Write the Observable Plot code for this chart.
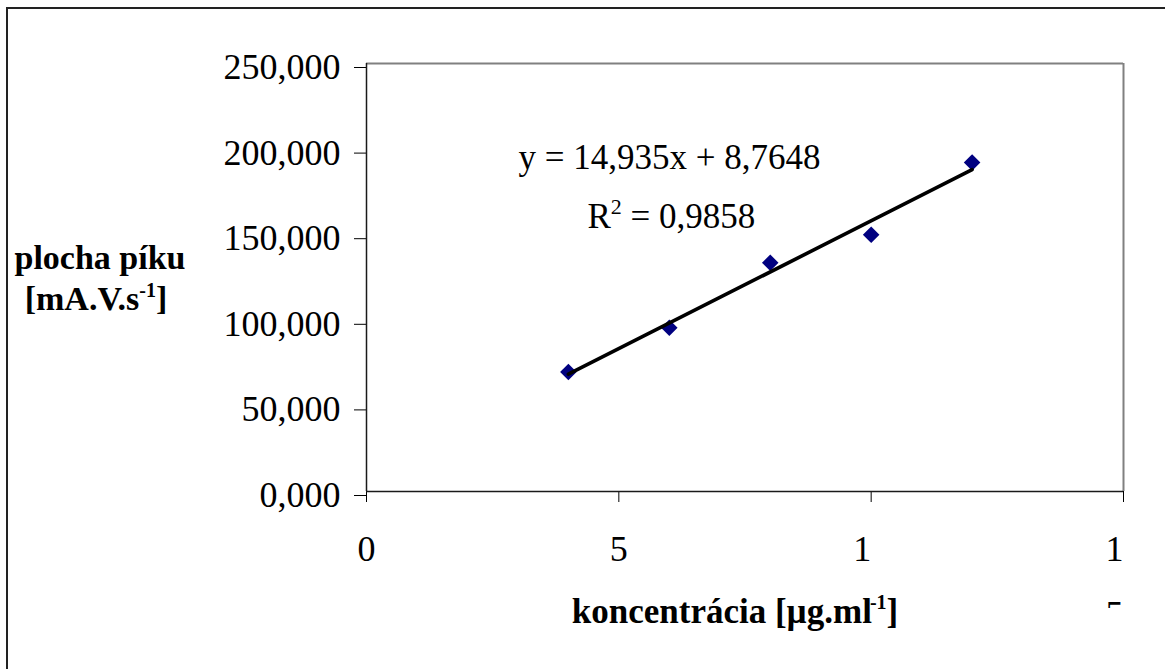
<!DOCTYPE html>
<html>
<head>
<meta charset="utf-8">
<script src="https://cdn.jsdelivr.net/npm/d3@7"></script>
<script src="https://cdn.jsdelivr.net/npm/@observablehq/plot@0.6"></script>
<style>
  html, body { margin: 0; padding: 0; background: #fff; }
  #chart { position: relative; width: 1165px; height: 669px; overflow: hidden; }
  #border { position: absolute; left: 6px; top: 7px; width: 2000px; height: 2000px;
            border-left: 2px solid #222; border-top: 2px solid #222; pointer-events: none; }
</style>
</head>
<body>
<div id="chart"><div id="border"></div></div>
<script>
// Calibration measurements: concentration (µg/ml) vs. peak area (mA.V.s^-1)
const concentration = [4, 6, 8, 10, 12];
const peakArea = [69.8, 95.6, 133.6, 150.0, 192.2];

// Linear trend line as reported
const trendSlope = 14.935;
const trendIntercept = 8.7648;
const rSquared = 0.9858;

// Axis ticks; the two-digit x labels wrap, so only their first digit shows
const yTicks = [0, 50, 100, 150, 200, 250];
const xTicks = [0, 5, 10, 15];
const xTickLabels = ["0", "5", "1\u2007", "1\u2007"];
const wrappedDigit = "5\u2007";

const serif = "'Liberation Serif', 'Times New Roman', serif";
const comma = (v, d) => v.toFixed(d).replace(".", ",");

const points = concentration.map((c, i) => ({c, a: peakArea[i]}));
const trend = d3.extent(concentration).map(c => ({c, a: trendSlope * c + trendIntercept}));

// Square marker rotated 45°
const squareDiamond = {
  draw(context, size) {
    const h = Math.sqrt(size / 2);
    context.moveTo(0, -h);
    context.lineTo(h, 0);
    context.lineTo(0, h);
    context.lineTo(-h, 0);
    context.closePath();
  }
};

const chart = Plot.plot({
  width: 1165,
  height: 669,
  marginLeft: 366,
  marginRight: 42,
  marginTop: 63,
  marginBottom: 178,
  style: {fontFamily: serif, fontSize: "36px", background: "transparent", color: "black", overflow: "visible"},
  x: {domain: [0, 15]},
  y: {domain: [0, 250]},
  marks: [
    Plot.ruleY([250], {stroke: "#808080", strokeWidth: 2}),
    Plot.ruleX([15], {stroke: "#808080", strokeWidth: 2}),
    Plot.axisY({ticks: yTicks, tickSize: 12, tickPadding: 14, dy: 4, fontSize: 36,
                tickFormat: d => comma(d, 3), label: null}),
    Plot.axisX({ticks: xTicks, tickSize: 11, tickPadding: 33, fontSize: 36,
                tickFormat: d => xTickLabels[xTicks.indexOf(d)], label: null}),
    Plot.text([15], {x: d => d, frameAnchor: "bottom", text: () => wrappedDigit, lineAnchor: "top",
                     dy: 109, fontSize: 36}),
    Plot.ruleX([0], {stroke: "#1a1a1a", strokeWidth: 1.5}),
    Plot.ruleY([0], {stroke: "#1a1a1a", strokeWidth: 1.5}),
    Plot.dot(points, {x: "c", y: "a", symbol: squareDiamond, r: 6.6, fill: "#000080", stroke: "none"}),
    Plot.line(trend, {x: "c", y: "a", stroke: "black", strokeWidth: 3.6}),
    Plot.text([`y = ${comma(trendSlope, 3)}x + ${comma(trendIntercept, 4)}`],
              {frameAnchor: "top-left", dx: 152, dy: 105, textAnchor: "start", lineAnchor: "bottom", fontSize: 35}),
    Plot.text([`R2 = ${comma(rSquared, 4)}`],
              {frameAnchor: "top-left", dx: 221, dy: 164, textAnchor: "start", lineAnchor: "bottom", fontSize: 35})
  ]
});

chart.style.position = "absolute";
chart.style.left = "0px";
chart.style.top = "0px";
document.getElementById("chart").appendChild(chart);

const svg = d3.select(chart);
const allText = Array.from(chart.querySelectorAll("text"));

// Only the top of the wrapped second digit peeks out below the last tick
svg.append("defs").append("clipPath").attr("id", "wrap-cut")
  .append("rect").attr("x", -2000).attr("y", -2000).attr("width", 5000).attr("height", 2000 + 608);
const wrapped = allText.find(t => t.textContent === wrappedDigit);
if (wrapped) {
  const mark = wrapped.parentNode;
  const holder = document.createElementNS("http://www.w3.org/2000/svg", "g");
  holder.setAttribute("clip-path", "url(#wrap-cut)");
  mark.parentNode.insertBefore(holder, mark);
  holder.appendChild(mark);
}

// Coefficient of determination with a proper raised exponent
const rText = allText.find(t => t.textContent.startsWith("R2"));
if (rText) {
  const r = d3.select(rText).text("");
  r.append("tspan").text("R");
  r.append("tspan").attr("font-size", 22).attr("dy", -14).text("2");
  r.append("tspan").attr("dy", 14).text(` = ${comma(rSquared, 4)}`);
}

// Axis titles
const yTitle = svg.append("text")
  .attr("font-family", serif).attr("font-weight", "bold").attr("font-size", 34)
  .attr("text-anchor", "middle").attr("fill", "black");
yTitle.append("tspan").attr("x", 100).attr("y", 269).text("plocha píku");
const yLine2 = yTitle.append("tspan").attr("x", 96).attr("y", 310);
yLine2.text("[mA.V.s");
yTitle.append("tspan").attr("font-size", 20).attr("dy", -13).text("-1");
yTitle.append("tspan").attr("dy", 13).text("]");

const xTitle = svg.append("text")
  .attr("font-family", serif).attr("font-weight", "bold").attr("font-size", 35)
  .attr("text-anchor", "middle").attr("fill", "black")
  .attr("x", 735).attr("y", 623);
xTitle.append("tspan").text("koncentrácia [µg.ml");
xTitle.append("tspan").attr("font-size", 20).attr("dx", -2).attr("dy", -14).text("-1");
xTitle.append("tspan").attr("dy", 14).text("]");
</script>
</body>
</html>
